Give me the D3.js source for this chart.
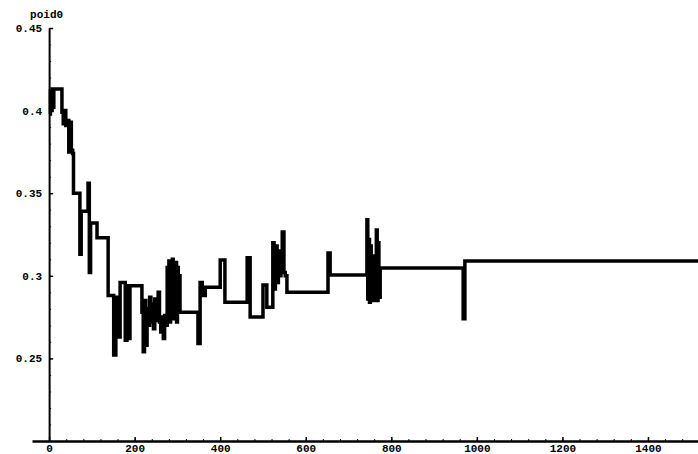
<!DOCTYPE html>
<html>
<head>
<meta charset="utf-8">
<script src="https://cdn.jsdelivr.net/npm/d3@7"></script>
<style>
  body { margin: 0; background: #fff; }
  .axis path, .axis line { stroke: #000; }
  .axis text { font-family: "Liberation Mono", "DejaVu Sans Mono", monospace; font-weight: bold; fill: #000; }
</style>
</head>
<body>
<div id="chart"></div>
<script>
// Step series: level changes at stepX, level value in stepY
var stepX = [0, 3, 5, 7, 9, 11, 30, 33, 36, 39, 42, 46, 49, 52, 55, 57, 72, 75, 91, 94, 97, 112,
  138, 151, 156, 159, 166, 178, 182, 185, 189,
  217, 220, 223, 226, 229, 232, 235, 238, 241, 244, 247, 250, 255, 258, 261, 264, 267, 270, 273,
  276, 278, 280, 282, 284, 286, 288, 290, 292, 294, 296, 298, 300, 302, 304, 306,
  348, 353, 358, 365, 400, 411, 463, 470, 500, 509,
  523, 526, 529, 533, 536, 539, 542, 545, 549, 552, 556,
  652, 657, 743, 745, 747, 749, 751, 753, 755, 757, 759, 762, 765, 767, 769, 771, 774, 968, 972, 1517];
var stepY = [0.398, 0.412, 0.400, 0.413, 0.402, 0.413, 0.399, 0.392, 0.400, 0.391, 0.394, 0.375, 0.393, 0.376, 0.374, 0.350, 0.313, 0.339, 0.356, 0.302, 0.332, 0.323,
  0.288, 0.252, 0.287, 0.263, 0.296, 0.261, 0.294, 0.262, 0.294,
  0.278, 0.254, 0.285, 0.258, 0.280, 0.270, 0.287, 0.272, 0.283, 0.268, 0.286, 0.273, 0.290, 0.272, 0.266, 0.275, 0.262, 0.276, 0.270,
  0.305, 0.275, 0.309, 0.272, 0.307, 0.276, 0.310, 0.274, 0.306, 0.279, 0.308, 0.272, 0.305, 0.282, 0.300, 0.278,
  0.259, 0.296, 0.288, 0.293, 0.3096, 0.284, 0.311, 0.275, 0.2944, 0.281,
  0.320, 0.292, 0.318, 0.296, 0.315, 0.300, 0.305, 0.3265, 0.302, 0.300, 0.290,
  0.3138, 0.3005, 0.334, 0.286, 0.322, 0.284, 0.318, 0.287, 0.312, 0.285, 0.300, 0.292, 0.3277, 0.285, 0.320, 0.287, 0.3047, 0.274, 0.309, 0.309];

// Tick labels
var xTickLabels = [0, 200, 400, 600, 800, 1000, 1200, 1400];
var xMinorTicks = d3.range(40, 1500, 40);
var yTickLabels = [0.25, 0.3, 0.35, 0.4, 0.45];
var yMinorTicks = d3.range(21, 45).map(function(d) { return d / 100; });
var yTitle = "poid0";

var width = 698;
var height = 454;

var svg = d3.select("#chart")
    .append("svg")
    .attr("width", width)
    .attr("height", height);

// x axis crosses at 0, y axis crosses at 0.2
var xScale = d3.scaleLinear().domain([-40, 1517]).range([32, 698]);
var yScale = d3.scaleLinear().domain([0.2, 0.45]).range([441, 28]);

// x axis: minor ticks then major ticks with labels
svg.append("g")
    .attr("class", "axis")
    .attr("transform", "translate(0,441)")
    .call(d3.axisBottom(xScale).tickValues(xMinorTicks).tickSize(-2).tickSizeOuter(0).tickFormat(""))
    .select(".domain").remove();

var xAxis = svg.append("g")
    .attr("class", "axis xAxis")
    .attr("transform", "translate(0,441)")
    .call(d3.axisBottom(xScale).tickValues(xTickLabels).tickSizeInner(-4).tickSizeOuter(0).tickPadding(3)
        .tickFormat(d3.format("d")));
xAxis.select(".domain").attr("stroke-width", 2.5);
xAxis.selectAll("line").attr("stroke-width", 1.5);
xAxis.selectAll("text").attr("font-size", 11);

// y axis at x = 0
var yPos = xScale(0);
svg.append("g")
    .attr("class", "axis")
    .attr("transform", "translate(" + yPos + ",0)")
    .call(d3.axisLeft(yScale).tickValues(yMinorTicks).tickSize(-2).tickSizeOuter(0).tickFormat(""))
    .select(".domain").remove();

var yAxis = svg.append("g")
    .attr("class", "axis yAxis")
    .attr("transform", "translate(" + yPos + ",0)")
    .call(d3.axisLeft(yScale).tickValues(yTickLabels).tickSizeInner(-4).tickSizeOuter(0).tickPadding(7)
        .tickFormat(function(d) { return String(d); }));
yAxis.select(".domain").attr("stroke-width", 2);
yAxis.selectAll("line").attr("stroke-width", 1.5);
yAxis.selectAll("text").attr("font-size", 11);

// axis title above the y axis
svg.append("text")
    .attr("x", yPos - 19)
    .attr("y", 18)
    .attr("font-family", "Liberation Mono, monospace")
    .attr("font-weight", "bold")
    .attr("font-size", 11)
    .text(yTitle);

// the step line
var pts = stepX.map(function(x, i) { return [x, stepY[i]]; });
var line = d3.line()
    .x(function(d) { return xScale(d[0]); })
    .y(function(d) { return yScale(d[1]); })
    .curve(d3.curveStepAfter);

svg.append("path")
    .datum(pts)
    .attr("d", line)
    .attr("fill", "none")
    .attr("stroke", "#000")
    .attr("stroke-width", 3.5)
    .attr("stroke-linejoin", "miter");
</script>
</body>
</html>
